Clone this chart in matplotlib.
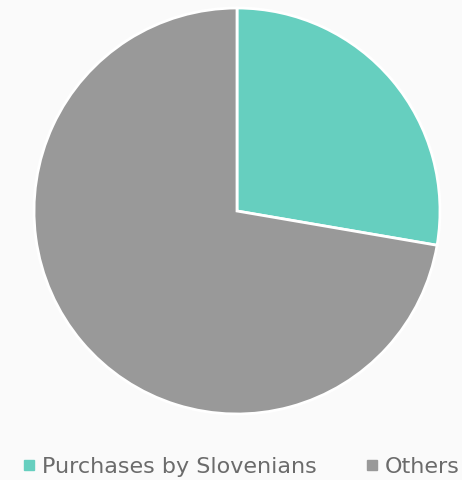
import matplotlib
matplotlib.use('Agg')
import matplotlib.pyplot as plt
from matplotlib.lines import Line2D

labels = ['Purchases by Slovenians', 'Others']
values = [27.7, 72.3]
colors = ['#66cfbf', '#999999']

fig = plt.figure(figsize=(4.62, 4.8), dpi=100)
fig.patch.set_facecolor('#fafafa')

# pie area: center ~(237,211), radius ~203 px
ax = fig.add_axes([(237 - 203) / 462, (480 - 414) / 480, 406 / 462, 406 / 480])
ax.set_facecolor('#fafafa')
ax.pie(values, colors=colors, startangle=90, counterclock=False,
       wedgeprops=dict(edgecolor='white', linewidth=2))
ax.set_xlim(-1, 1)
ax.set_ylim(-1, 1)
ax.set_aspect('equal')
ax.axis('off')

handles = [Line2D([0], [0], marker='s', color='none', markerfacecolor=c,
                  markeredgecolor=c, markersize=7) for c in colors]
leg = fig.legend(handles, labels, loc='center', bbox_to_anchor=(0.522, 1 - 467 / 480),
                 ncol=2, frameon=False, handlelength=0.6, handletextpad=0.3,
                 columnspacing=2.15, fontsize=16, labelcolor='#6b6b6b')

fig.savefig('out.png', dpi=100, facecolor=fig.get_facecolor())
